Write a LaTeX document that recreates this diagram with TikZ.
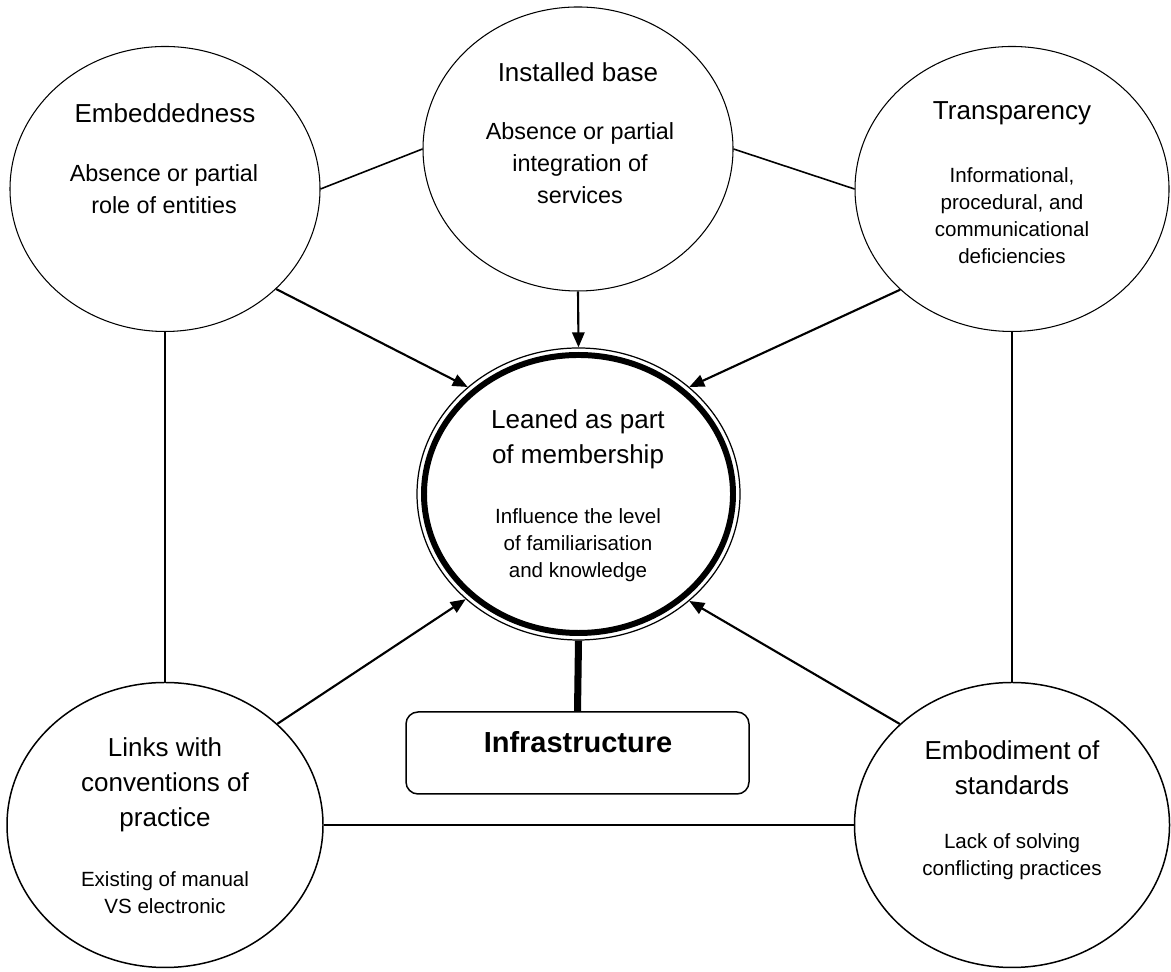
\documentclass[tikz,border=0pt]{standalone}
\usepackage{fontspec}
\setmainfont{Liberation Sans}
\usetikzlibrary{shapes.geometric, arrows.meta, positioning, calc}

\begin{document}
\begin{tikzpicture}[
    bubble/.style={ellipse, draw, line width=0.6pt, inner sep=0pt, minimum width=6.2cm, minimum height=5.7cm},
    heading/.style={align=center, font=\fontsize{14.8}{20}\selectfont},
    bigdetail/.style={align=center, font=\fontsize{13.3}{18.2}\selectfont},
    detail/.style={align=center, font=\fontsize{11.7}{15.4}\selectfont},
    link/.style={line width=0.9pt},
    feed/.style={-{Triangle[length=8.5pt, width=7pt]}, line width=1.2pt}
]
    \useasboundingbox (0,0) rectangle (23.42,19.44);

    % Top row
    \node[bubble] (emb) at (3.3,15.66) {};
    \node[heading] (embT) at (3.3,17.18) {Embeddedness};
    \node[bigdetail] (embD) at (3.28,15.66) {Absence or partial\\role of entities};

    \node[bubble, minimum height=5.68cm] (inst) at (11.56,16.46) {};
    \node[heading] (instT) at (11.56,18.0) {Installed base};
    \node[bigdetail] (instD) at (11.6,16.18) {Absence or partial\\integration of\\services};

    \node[bubble, minimum width=6.28cm] (transp) at (20.24,15.66) {};
    \node[heading] (transpT) at (20.24,17.18) {Transparency};
    \node[detail] (transpD) at (20.24,15.12) {Informational,\\procedural, and\\communicational\\deficiencies};

    % Centre ring, thin outside and heavy inside
    \node[bubble, line width=0.7pt, minimum width=6.46cm, minimum height=5.84cm] (lean) at (11.57,9.56) {};
    \node[ellipse, draw, line width=3.4pt, inner sep=0pt, minimum width=6.18cm, minimum height=5.56cm] (leanring) at (lean) {};
    \node[heading] (leanT) at (11.56,10.65) {Leaned as part\\of membership};
    \node[detail] (leanD) at (11.56,8.54) {Influence the level\\of familiarisation\\and knowledge};

    % Bottom row
    \node[bubble, line width=0.85pt, minimum width=6.32cm] (links) at (3.3,2.94) {};
    \node[heading] (linksT) at (3.3,3.74) {Links with\\conventions of\\practice};
    \node[detail] (linksD) at (3.3,1.59) {Existing of manual\\VS electronic};

    \node[bubble, line width=0.85pt, minimum width=6.3cm] (embod) at (20.24,2.94) {};
    \node[heading] (embodT) at (20.24,4.09) {Embodiment of\\standards};
    \node[detail] (embodD) at (20.24,2.31) {Lack of solving\\conflicting practices};

    \node[draw, rounded corners=0.24cm, line width=0.85pt, minimum width=6.86cm, minimum height=1.64cm] (infra) at (11.55,4.38) {};
    \node[font=\bfseries\fontsize{16.5}{19}\selectfont] (infraT) at (11.56,4.6) {Infrastructure};

    % Plain links round the outside
    \draw[link] (emb.east) -- (inst.west);
    \draw[link] (inst.east) -- (transp.west);
    \draw[link] (emb.south) -- (links.north);
    \draw[link] (transp.south) -- (embod.north);
    \draw[link] (links.east) -- (embod.west);

    % Arrows into the centre
    \draw[feed] (emb.-42) -- (lean.136);
    \draw[feed] (inst.south) -- (lean.north);
    \draw[feed] (transp.222) -- (lean.44);
    \draw[feed] (links.42) -- (lean.223);
    \draw[feed] (embod.138) -- (lean.-44);

    \draw[line width=4pt] (lean.south) -- (infra.north);
\end{tikzpicture}
\end{document}
